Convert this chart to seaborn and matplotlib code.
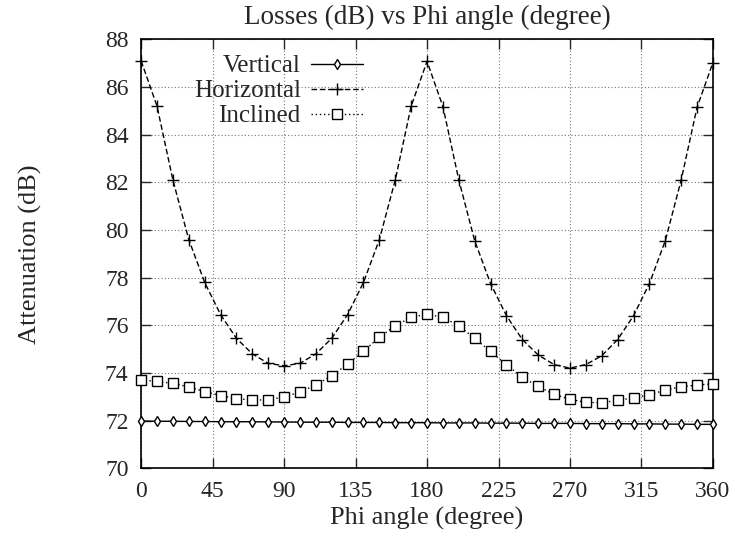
import matplotlib
matplotlib.use("Agg")
import matplotlib.pyplot as plt
import seaborn as sns
import pandas as pd
import numpy as np

phi = list(range(0, 361, 10))

vertical = [71.98, 71.97, 71.97, 71.96, 71.96, 71.95, 71.95, 71.95, 71.94, 71.94,
            71.93, 71.93, 71.93, 71.92, 71.92, 71.92, 71.91, 71.91, 71.91, 71.90,
            71.90, 71.90, 71.89, 71.89, 71.89, 71.88, 71.88, 71.88, 71.87, 71.87,
            71.87, 71.86, 71.86, 71.85, 71.85, 71.84, 71.84]

horizontal = [87.1, 85.2, 82.1, 79.6, 77.8, 76.45, 75.45, 74.8, 74.4, 74.3,
              74.4, 74.8, 75.45, 76.45, 77.8, 79.6, 82.1, 85.2, 87.08,
              85.18, 82.1, 79.55, 77.75, 76.4, 75.4, 74.75, 74.35, 74.2,
              74.35, 74.72, 75.4, 76.4, 77.75, 79.55, 82.1, 85.15, 87.03]

inclined = [73.71, 73.64, 73.56, 73.41, 73.21, 73.05, 72.92, 72.86, 72.87, 72.99,
            73.2, 73.49, 73.88, 74.37, 74.91, 75.5, 75.98, 76.33, 76.47,
            76.33, 75.98, 75.45, 74.9, 74.34, 73.82, 73.43, 73.1, 72.89,
            72.76, 72.75, 72.85, 72.95, 73.08, 73.28, 73.42, 73.49, 73.54]

series_names = ["Vertical", "Horizontal", "Inclined"]
x_ticks = [0, 45, 90, 135, 180, 225, 270, 315, 360]
y_ticks = [70, 72, 74, 76, 78, 80, 82, 84, 86, 88]

df = pd.DataFrame({
    "phi": phi * 3,
    "value": vertical + horizontal + inclined,
    "series": [series_names[0]] * len(phi) + [series_names[1]] * len(phi) + [series_names[2]] * len(phi),
})

sns.set_style("ticks")
plt.rcParams["font.family"] = ["Liberation Serif", "DejaVu Serif"]
plt.rcParams["font.size"] = 14

fig = plt.figure(figsize=(7.35, 5.4), dpi=100)
ax = fig.add_axes([0.192, 0.133, 0.778, 0.794])

styles = {
    "Vertical": dict(marker="d", linestyle="-", ms=5, mfc="white", mew=1.0),
    "Horizontal": dict(marker="+", linestyle=(0, (4, 2)), ms=8, mew=1.0),
    "Inclined": dict(marker="s", linestyle=(0, (1, 2)), ms=6.5, mfc="white", mew=1.0),
}

for name in series_names:
    sub = df[df["series"] == name]
    st = styles[name]
    sns.lineplot(data=sub, x="phi", y="value", ax=ax, color="black", lw=1.0,
                 marker=st["marker"], linestyle=st["linestyle"], markersize=st["ms"],
                 markerfacecolor=st.get("mfc", "black"), markeredgecolor="black",
                 markeredgewidth=st["mew"], label=name, clip_on=False, zorder=3)

ax.set_xlim(0, 360)
ax.set_ylim(70, 88)
ax.set_xticks(x_ticks)
ax.set_yticks(y_ticks)
ax.grid(True, linestyle=(0, (1, 2)), color="#777777", linewidth=0.8)
ax.tick_params(direction="in", top=True, right=True, length=7, width=1, labelsize=17, pad=9)
for sp in ax.spines.values():
    sp.set_linewidth(1.2)
    sp.set_color("black")

ax.set_xlabel("Phi angle (degree)", fontsize=19, labelpad=4)
ax.set_ylabel("Attenuation (dB)", fontsize=19, labelpad=45)
ax.set_title("Losses (dB) vs Phi angle (degree)", fontsize=19.5, pad=11)

leg = ax.legend(loc="upper left", bbox_to_anchor=(0.092, 0.964), frameon=False,
                markerfirst=False, handlelength=2.1, handletextpad=0.4,
                labelspacing=0.1, borderpad=0, borderaxespad=0, fontsize=18)

fig.savefig("out.png", dpi=100)
